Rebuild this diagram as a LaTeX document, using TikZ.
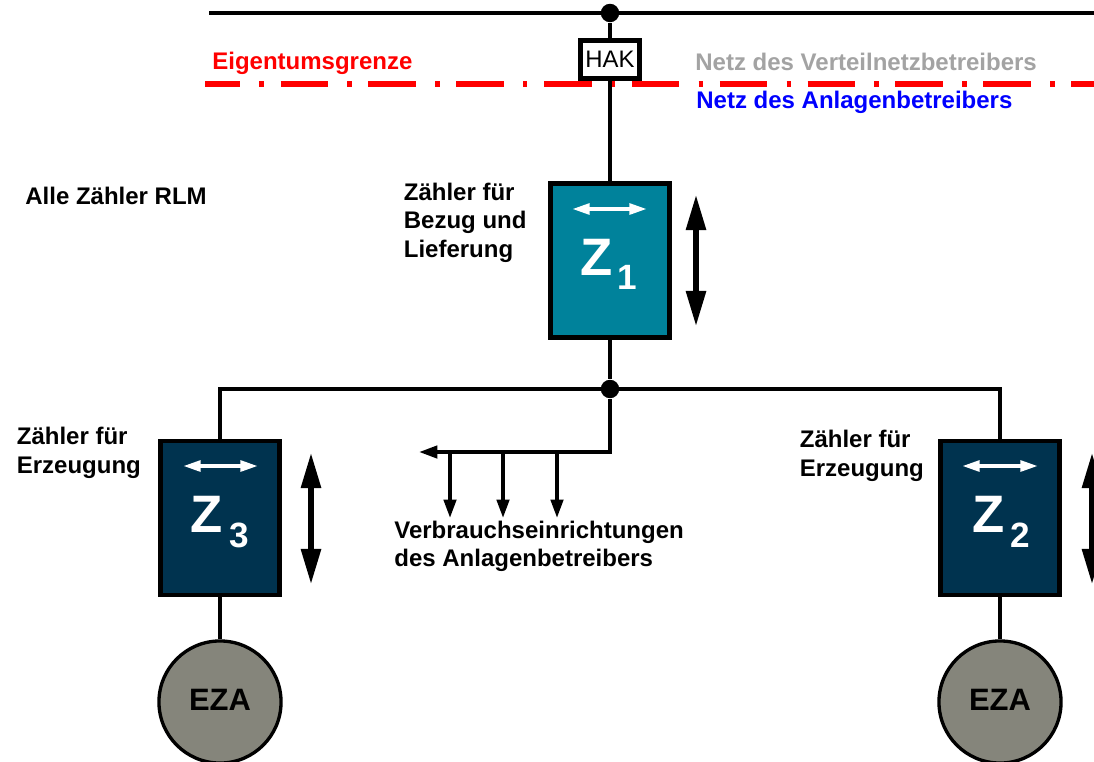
\documentclass[tikz,border=0pt]{standalone}
\usepackage{fontspec}
\setmainfont{Liberation Sans}
\usetikzlibrary{arrows.meta}
\definecolor{tealz}{HTML}{00829B}
\definecolor{navyz}{HTML}{00334F}
\definecolor{grayeza}{HTML}{85857B}
\definecolor{grayt}{HTML}{A3A3A3}
\tikzset{
    leitung/.style={line width=2.1pt, black},
    punkt/.style={circle, fill=black, inner sep=0pt, minimum size=10.5pt},
    zaehler/.style={draw=black, line width=2.6pt, minimum width=68pt, minimum height=87.5pt, inner sep=0pt},
    eza/.style={circle, draw=black, line width=1.9pt, fill=grayeza, minimum size=69.5pt, inner sep=0pt, font=\fontsize{17.6pt}{20pt}\selectfont\bfseries},
    hak/.style={draw=black, line width=2.8pt, fill=white, minimum width=33.5pt, minimum height=22pt, inner sep=0pt, font=\fontsize{13.6pt}{16pt}\selectfont},
    txt/.style={anchor=west, align=left, inner sep=0pt, font=\fontsize{13.66pt}{16.2pt}\selectfont\bfseries},
    zbig/.style={text=white, inner sep=0pt, font=\fontsize{30pt}{32pt}\selectfont\bfseries},
    zsub/.style={text=white, inner sep=0pt, font=\fontsize{20pt}{22pt}\selectfont\bfseries},
    pfeil/.style={line width=2.1pt, -{Triangle[length=10.5pt, width=7pt]}},
    richtung/.style={line width=2.9pt, {Triangle[length=20pt, width=11pt]}-{Triangle[length=20pt, width=11pt]}},
    richtungw/.style={white, line width=2.2pt, {Triangle[length=10pt, width=6pt]}-{Triangle[length=10pt, width=6pt]}}
}
\begin{document}
\begin{tikzpicture}[x=0.02cm,y=-0.02cm]
    \clip (0,0) rectangle (1094,761);
    \fill[white] (0,0) rectangle (1094,761);
    % Netz oben
    \coordinate (busl) at (209,13);
    \coordinate (busr) at (1094,13);
    \node[punkt] (kn1) at (610,13) {};
    \draw[leitung] (busl) -- (busr);
    % Grenze
    \coordinate (grl) at (205,84);
    \coordinate (grr) at (1094,84);
    \draw[red, line width=3.2pt, dash pattern=on 27pt off 11pt on 2.5pt off 9.5pt, dash phase=7pt] (grl) -- (grr);
    \node[hak] (hak) at (610,59.5) {HAK};
    \draw[leitung] (kn1) -- (hak);
    \node[txt, text=red] (eigen) at (212,63) {Eigentumsgrenze};
    \node[txt, text=grayt] (vnb) at (695,62) {Netz des Verteilnetzbetreibers};
    \node[txt, text=blue] (anl) at (696,102) {Netz des Anlagenbetreibers};
    \node[txt] (rlm) at (25,196) {Alle Zähler RLM};
    % Zaehler
    \node[zaehler, fill=tealz] (z1) at (610,260.5) {};
    \node[zaehler, fill=navyz] (z3) at (220,518) {};
    \node[zaehler, fill=navyz] (z2) at (1000,518) {};
    \node[eza] (eza3) at (220,702) {\raisebox{2.3pt}{EZA}};
    \node[eza] (eza2) at (1000,702) {\raisebox{2.3pt}{EZA}};
    \node[punkt] (kn2) at (610,389) {};
    \coordinate (abz3) at (220,389);
    \coordinate (abz2) at (1000,389);
    \coordinate (ecke) at (610,452);
    \coordinate (spitze) at (419,452);
    \draw[leitung] (hak) -- (z1);
    \draw[leitung] (z1) -- (kn2);
    \draw[leitung] (z3) -- (abz3) -- (abz2) -- (z2);
    \draw[leitung] (z3) -- (eza3);
    \draw[leitung] (z2) -- (eza2);
    \draw[pfeil] (kn2) -- (ecke) -- (spitze);
    \foreach \x in {450,503,557} {
        \draw[pfeil] (\x,452) -- (\x,518);
    }
    % Beschriftung Zaehler
    \node[zbig] (z1t) at (597,257) {Z};
    \node[zsub] (z1s) at (627,277.5) {1};
    \node[zbig] (z3t) at (207,514.5) {Z};
    \node[zsub] (z3s) at (239,535.5) {3};
    \node[zbig] (z2t) at (988.5,514.5) {Z};
    \node[zsub] (z2s) at (1020.5,535.5) {2};
    \draw[richtungw] (572,209) -- (647,209);
    \draw[richtungw] (183,466) -- (258,466);
    \draw[richtungw] (962,466) -- (1038,466);
    \draw[richtung] (696,195) -- (696,326);
    \draw[richtung] (311,453) -- (311,584);
    \draw[richtung] (1092,453) -- (1092,584);
    \node[txt] (bez) at (403.5,222.5) {Zähler für\\Bezug und\\Lieferung};
    \node[txt] (erz3) at (16.5,453) {Zähler für\\Erzeugung};
    \node[txt] (erz2) at (799.5,456) {Zähler für\\Erzeugung};
    \node[txt] (verb) at (394,546.5) {Verbrauchseinrichtungen\\des Anlagenbetreibers};
\end{tikzpicture}
\end{document}
